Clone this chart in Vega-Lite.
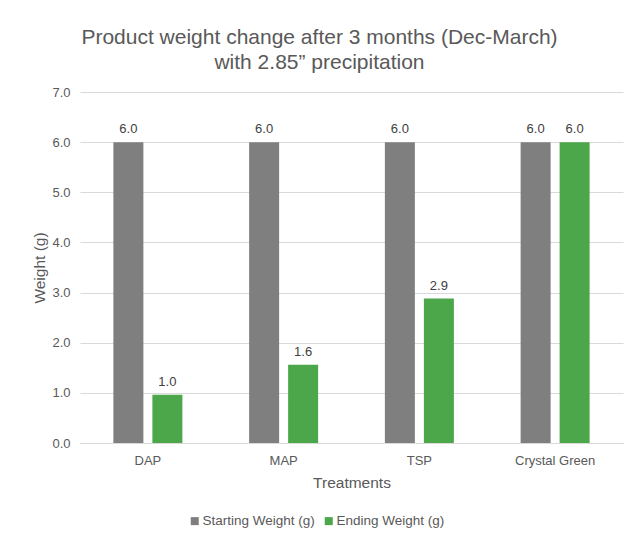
{
  "$schema": "https://vega.github.io/schema/vega-lite/v6.json",
  "width": 543,
  "height": 351,
  "autosize": {"type": "none"},
  "padding": {"left": 80, "top": 92, "right": 11, "bottom": 95},
  "background": "white",
  "config": {
    "font": "Liberation Sans",
    "view": {"stroke": null}
  },
  "title": {
    "text": ["Product weight change after 3 months (Dec-March)", "with 2.85\u201d precipitation"],
    "fontSize": 21,
    "fontWeight": "normal",
    "color": "#595959",
    "lineHeight": 25,
    "offset": 13,
    "dx": -32,
    "anchor": "middle"
  },
  "data": {
    "values": [
      {"treatment": "DAP", "series": "Starting Weight (g)", "weight": 6.0},
      {"treatment": "DAP", "series": "Ending Weight (g)", "weight": 0.96},
      {"treatment": "MAP", "series": "Starting Weight (g)", "weight": 6.0},
      {"treatment": "MAP", "series": "Ending Weight (g)", "weight": 1.56},
      {"treatment": "TSP", "series": "Starting Weight (g)", "weight": 6.0},
      {"treatment": "TSP", "series": "Ending Weight (g)", "weight": 2.88},
      {"treatment": "Crystal Green", "series": "Starting Weight (g)", "weight": 6.0},
      {"treatment": "Crystal Green", "series": "Ending Weight (g)", "weight": 6.0}
    ]
  },
  "encoding": {
    "x": {
      "field": "treatment",
      "type": "nominal",
      "sort": ["DAP", "MAP", "TSP", "Crystal Green"],
      "scale": {"paddingInner": 0.4917, "paddingOuter": 0.2459},
      "axis": {
        "title": "Treatments",
        "labelAngle": 0,
        "labelFontSize": 13,
        "labelColor": "#595959",
        "titleFontSize": 15.5,
        "titleFontWeight": "normal",
        "titleColor": "#595959",
        "ticks": false,
        "domainColor": "#d9d9d9",
        "domainWidth": 1,
        "labelPadding": 11,
        "titlePadding": 8
      }
    },
    "xOffset": {
      "field": "series",
      "type": "nominal",
      "sort": ["Starting Weight (g)", "Ending Weight (g)"],
      "scale": {"paddingInner": 0.2308, "paddingOuter": 0}
    },
    "y": {
      "field": "weight",
      "type": "quantitative",
      "scale": {"domain": [0, 7]},
      "axis": {
        "title": "Weight (g)",
        "values": [0, 1, 2, 3, 4, 5, 6, 7],
        "labelOverlap": false,
        "format": ".1f",
        "labelFontSize": 13,
        "labelColor": "#595959",
        "titleFontSize": 15.5,
        "titleFontWeight": "normal",
        "titleColor": "#595959",
        "ticks": false,
        "domain": false,
        "gridColor": "#d9d9d9",
        "labelPadding": 10,
        "titlePadding": 4
      }
    }
  },
  "layer": [
    {
      "mark": {"type": "bar"},
      "encoding": {
        "color": {
          "field": "series",
          "type": "nominal",
          "sort": ["Starting Weight (g)", "Ending Weight (g)"],
          "scale": {"domain": ["Starting Weight (g)", "Ending Weight (g)"], "range": ["#7f7f7f", "#4ca64a"]},
          "legend": {
            "title": null,
            "orient": "none",
            "legendX": 108,
            "legendY": 422,
            "direction": "horizontal",
            "symbolType": "square",
            "symbolSize": 64,
            "symbolStrokeWidth": 0,
            "labelFontSize": 13.5,
            "labelColor": "#595959",
            "columnPadding": 7,
            "labelOffset": 1
          }
        }
      }
    },
    {
      "mark": {"type": "text", "dy": -13, "fontSize": 13, "color": "#404040"},
      "encoding": {
        "text": {"field": "weight", "type": "quantitative", "format": ".1f"}
      }
    }
  ]
}
